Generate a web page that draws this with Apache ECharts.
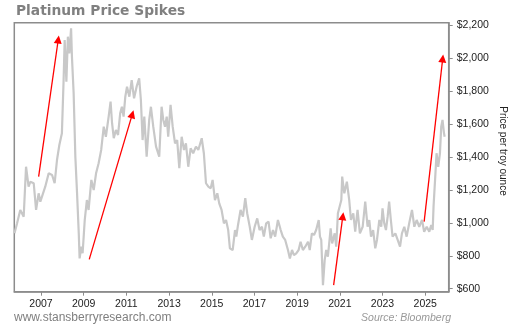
<!DOCTYPE html>
<html>
<head>
<meta charset="utf-8">
<script src="https://cdn.jsdelivr.net/npm/echarts@6/dist/echarts.min.js"></script>
<style>html,body{margin:0;padding:0;background:#fff;}#c{width:512px;height:326px;}</style>
</head>
<body>
<div id="c"></div>
<script>
// Decimal years and platinum price (USD per troy ounce)
var years = [
 2005.76,2005.88,2006.03,2006.19,2006.30,2006.42,2006.50,2006.66,2006.77,2006.89,2006.97,
 2007.20,2007.36,2007.52,2007.64,2007.75,2007.86,2007.98,
 2008.06,2008.11,2008.19,2008.26,2008.33,2008.41,2008.45,2008.53,2008.61,2008.69,2008.77,2008.81,2008.89,2008.95,
 2009.05,2009.15,2009.23,2009.36,2009.47,2009.58,2009.70,2009.82,2009.94,
 2010.04,2010.17,2010.26,2010.33,2010.41,2010.51,2010.61,2010.71,2010.79,2010.87,2010.95,
 2011.03,2011.14,2011.25,2011.36,2011.48,2011.60,2011.68,2011.76,2011.84,2011.95,
 2012.07,2012.15,2012.26,2012.39,2012.54,2012.65,2012.73,2012.81,2012.89,2012.96,
 2013.07,2013.17,2013.28,2013.38,2013.48,2013.59,2013.70,2013.79,2013.90,
 2014.01,2014.13,2014.26,2014.37,2014.53,2014.63,2014.73,2014.84,2014.95,
 2015.04,2015.15,2015.26,2015.35,2015.46,2015.57,2015.67,2015.77,2015.85,2015.98,
 2016.09,2016.15,2016.23,2016.35,2016.46,2016.57,2016.66,2016.78,2016.88,
 2017.01,2017.13,2017.24,2017.35,2017.44,2017.55,2017.66,2017.76,2017.87,2017.97,
 2018.10,2018.23,2018.33,2018.44,2018.57,2018.66,2018.76,2018.85,2018.96,
 2019.07,2019.16,2019.27,2019.38,2019.51,2019.59,2019.69,2019.79,2019.89,
 2020.01,2020.07,2020.13,2020.21,2020.29,2020.36,2020.44,2020.57,2020.64,2020.76,2020.83,2020.91,2020.99,
 2021.07,2021.11,2021.21,2021.33,2021.44,2021.52,2021.63,2021.72,2021.83,2021.94,
 2022.07,2022.19,2022.30,2022.38,2022.46,2022.56,2022.66,2022.74,2022.85,2022.94,
 2023.00,2023.08,2023.16,2023.24,2023.31,2023.39,2023.47,2023.60,2023.71,2023.82,2023.91,
 2024.02,2024.13,2024.25,2024.38,2024.49,2024.60,2024.72,2024.85,2024.95,
 2025.07,2025.19,2025.28,2025.35,2025.39,2025.47,2025.53,2025.61,2025.69,2025.75,2025.81,2025.88,2025.91
];
var prices = [
 936,997,1078,1037,1340,1219,1249,1240,1078,1179,1128,
 1219,1300,1290,1240,1381,1472,1543,
 1866,2109,1856,2129,2028,2180,2008,1786,1401,1179,936,784,855,815,
 1017,1138,1078,1260,1199,1300,1361,1442,1583,
 1522,1644,1735,1604,1513,1563,1533,1664,1704,1644,1765,
 1826,1765,1866,1755,1826,1877,1745,1502,1644,1401,
 1624,1704,1583,1462,1401,1704,1624,1583,1644,1522,
 1715,1583,1482,1502,1331,1522,1442,1482,1340,
 1452,1422,1462,1442,1513,1422,1240,1219,1209,
 1260,1138,1179,1118,1078,997,1017,956,845,835,
 956,916,987,1078,1037,1149,1058,976,896,
 976,1027,956,976,916,997,1007,906,956,916,
 1017,956,916,896,835,784,835,804,815,
 835,885,835,855,885,835,936,926,956,
 1017,916,896,622,774,835,794,966,875,936,855,1058,1067,
 1138,1280,1179,1249,1138,1017,1058,946,1078,936,
 976,1128,976,1017,916,956,845,896,1017,976,
 1088,997,956,1037,1128,1017,916,936,896,855,936,
 976,916,997,1078,976,1017,976,1017,946,
 976,946,987,956,1098,1280,1422,1340,1422,1583,1624,1543,1522
];
// Red "spike" arrows: [startYear, startPrice, endYear, endPrice]
var arrows = [
 [2006.89, 1280, 2007.81, 2112],
 [2009.26, 778, 2011.28, 1659],
 [2020.71, 622, 2021.14, 1040],
 [2024.95, 1007, 2025.82, 1997]
];
var xTicks = [2007,2009,2011,2013,2015,2017,2019,2021,2023,2025];
var yTicks = [600,800,1000,1200,1400,1600,1800,2000,2200];

var chart = echarts.init(document.getElementById('c'), null, {renderer:'canvas'});
var pts = years.map(function(y,i){return [y, prices[i]];});
var F = '"Liberation Sans", Arial, sans-serif';
chart.setOption({
  animation:false,
  backgroundColor:'#ffffff',
  title:{
    text:'Platinum Price Spikes', left:16, top:4, padding:0,
    textStyle:{fontFamily:'"DejaVu Sans", Verdana, sans-serif', fontWeight:'bold', fontSize:13.8, color:'#808080'}
  },
  grid:{left:14.3, right:63.3, top:22.7, bottom:34.3, show:true, borderColor:'#8c8c8c', borderWidth:1.5, backgroundColor:'#fff'},
  xAxis:{
    type:'value', min:2005.75, max:2026.1,
    axisLine:{show:true, lineStyle:{color:'#8c8c8c', width:1.5}},
    axisTick:{show:true, customValues:xTicks, length:4, lineStyle:{color:'#8c8c8c'}},
    axisLabel:{customValues:xTicks, margin:7, color:'#222', fontFamily:F, fontSize:10.5, formatter:function(v){return String(v);}},
    splitLine:{show:false}
  },
  yAxis:{
    type:'value', position:'right', min:582, max:2214,
    axisLine:{show:true, lineStyle:{color:'#8c8c8c', width:1.5}},
    axisTick:{show:true, customValues:yTicks, length:4, lineStyle:{color:'#8c8c8c'}},
    axisLabel:{customValues:yTicks, margin:8, color:'#222', fontFamily:F, fontSize:10.5,
      formatter:function(v){return '$' + Math.round(v).toLocaleString('en-US');}},
    splitLine:{show:false}
  },
  series:[
    {type:'line', data:pts, symbol:'none', lineStyle:{color:'#c8c8c8', width:2.2}, z:2},
    {type:'line', data:[], symbol:'none', z:3,
     markLine:{silent:true, symbol:['none','triangle'], symbolSize:8, label:{show:false},
       lineStyle:{color:'#ff0000', width:1.3, type:'solid'},
       itemStyle:{color:'#ff0000'},
       data:arrows.map(function(a){return [{coord:[a[0],a[1]]},{coord:[a[2],a[3]]}];})}}
  ],
  graphic:[
    {type:'text', x:503, y:151, rotation:-Math.PI/2,
     style:{text:'Price per troy ounce', font:'10px '+F, fill:'#222', align:'center', verticalAlign:'middle'}},
    {type:'text', left:14, top:312,
     style:{text:'www.stansberryresearch.com', font:'12px '+F, fill:'#7f7f7f'}},
    {type:'text', right:61, top:313,
     style:{text:'Source: Bloomberg', font:'italic 10.5px '+F, fill:'#999'}}
  ]
});
</script>
</body>
</html>
